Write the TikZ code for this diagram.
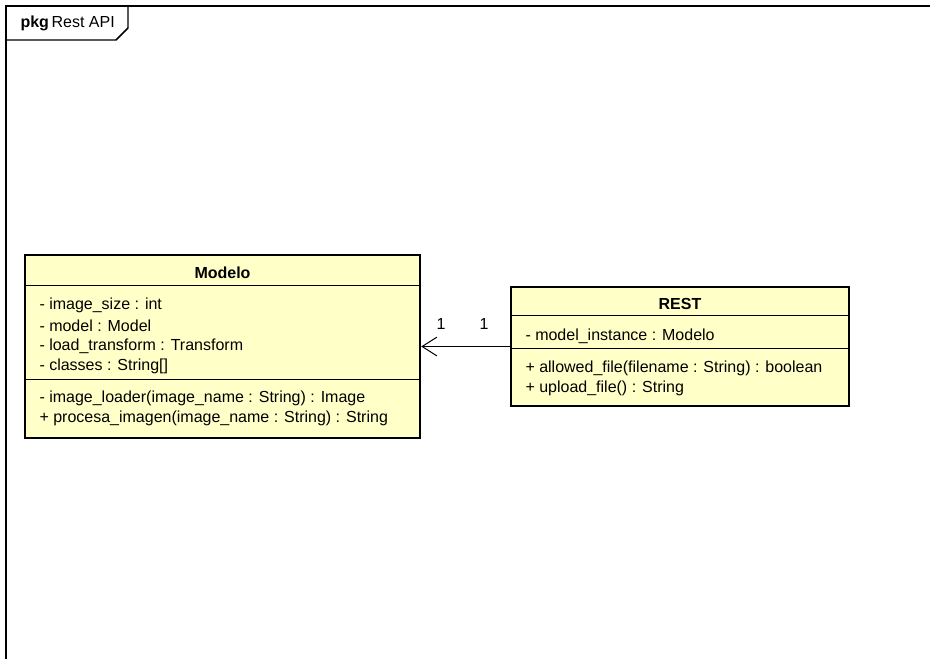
\documentclass[tikz,border=0pt]{standalone}
\usepackage{fontspec}
\setmainfont{Liberation Sans}
\usetikzlibrary{arrows.meta}

\definecolor{classfill}{RGB}{255,255,200}
\tikzset{every picture/.style={line width=0.75pt}}
\tikzset{
  classbox/.style={draw, fill=classfill, line width=1.8pt, inner sep=0pt},
  member/.style={anchor=west, inner sep=0.75pt, font=\fontsize{12}{14}\selectfont},
  title/.style={inner sep=0.75pt, font=\fontsize{12}{14}\selectfont\bfseries},
}

\begin{document}
\begin{tikzpicture}[x=0.75pt,y=0.75pt,yscale=-1,xscale=1]
    \useasboundingbox (0,0) rectangle (930,658);

    %Package frame
    \draw [line width=1.1pt] (6,662) -- (6,6) -- (934,6) ;
    %Package tab
    \draw [line width=1.1pt] (6,40) -- (116,40) -- (128,28) -- (128,6) ;
    % Text Node
    \draw (19,23) node [anchor=west][inner sep=0.75pt] [font=\fontsize{12}{14}\selectfont] (pkgname) {\textbf{pkg}\,Rest API};

    %Class Modelo
    \node [classbox, minimum width=296.25pt, minimum height=137.25pt] (modelo) at (222.5,346.5) {};
    \draw (modelo.north west) ++(0,32) -- ++(395,0) ;
    \draw (modelo.north west) ++(0,126) -- ++(395,0) ;
    % Text Node
    \draw (222.5,273) node [title] (modelotitle) {Modelo};
    \draw (38,305) node [member] (attr1) {- image\_size : int};
    \draw (38,325.5) node [member] (attr2) {- model : Model};
    \draw (38,346) node [member] (attr3) {- load\_transform : Transform};
    \draw (38,366.5) node [member] (attr4) {- classes : String[]};
    \draw (38,398) node [member] (op1) {- image\_loader(image\_name : String) : Image};
    \draw (38,418.5) node [member] (op2) {+ procesa\_imagen(image\_name : String) : String};

    %Class REST
    \node [classbox, minimum width=253.5pt, minimum height=89.25pt] (rest) at (680,346.5) {};
    \draw (rest.north west) ++(0,30) -- ++(338,0) ;
    \draw (rest.north west) ++(0,63) -- ++(338,0) ;
    % Text Node
    \draw (680,304) node [title] (resttitle) {REST};
    \draw (524,336) node [member] (rattr1) {- model\_instance : Modelo};
    \draw (524,368) node [member] (rop1) {+ allowed\_file(filename : String) : boolean};
    \draw (524,388.5) node [member] (rop2) {+ upload\_file() : String};

    %Association
    \draw [-{Straight Barb[length=11pt,width=14pt,line width=0.75pt]}] (rest) -- (modelo) ;
    % Text Node
    \draw (441,324) node [inner sep=0.75pt] [font=\fontsize{12}{14}\selectfont] (multa) {1};
    \draw (484,324) node [inner sep=0.75pt] [font=\fontsize{12}{14}\selectfont] (multb) {1};
\end{tikzpicture}
\end{document}
